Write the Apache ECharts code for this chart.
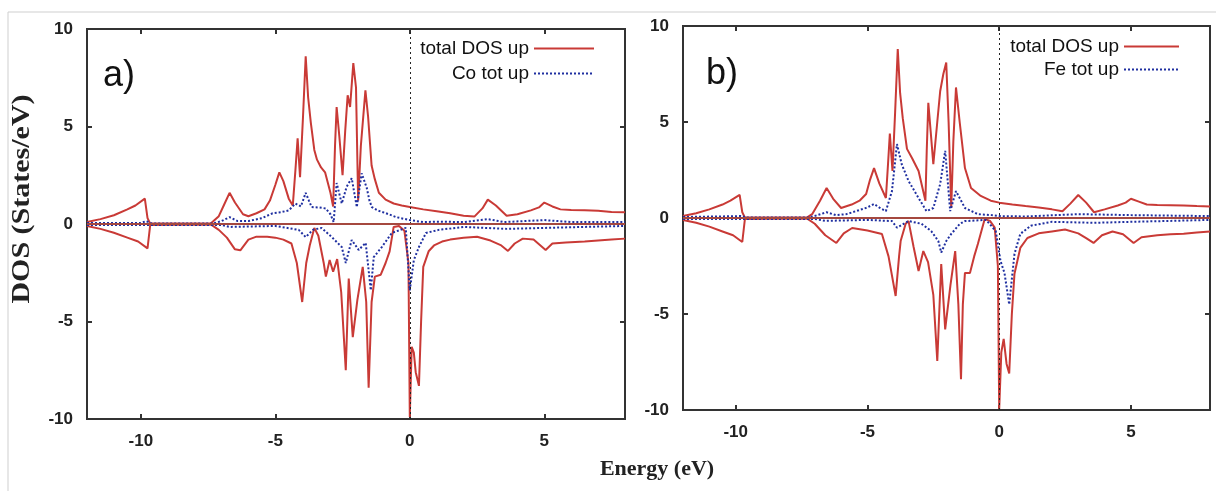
<!DOCTYPE html>
<html><head><meta charset="utf-8">
<script src="https://cdn.jsdelivr.net/npm/echarts@6/dist/echarts.min.js"></script>
<style>html,body{margin:0;padding:0;background:#fff}#c{width:1216px;height:491px}</style>
</head><body><div id="c"></div>
<script>
// ---- data (energy eV, DOS states/eV) ----
const xTicks = [-10, -5, 0, 5];
const yTicks = [-10, -5, 0, 5, 10];
const panelLabels = ['a)', 'b)'];
const legendA = ['total DOS up', 'Co tot up'];
const legendB = ['total DOS up', 'Fe tot up'];

const aTotUp = [[-12,0.1],[-11.5,0.25],[-11,0.45],[-10.5,0.75],[-10.2,0.95],[-9.85,1.3],[-9.75,0.3],[-9.65,0.02],[-7.4,0.02],[-7.1,0.4],[-6.9,1.0],[-6.7,1.6],[-6.5,1.1],[-6.2,0.5],[-6.0,0.4],[-5.7,0.55],[-5.4,0.75],[-5.2,1.2],[-5.0,2.0],[-4.85,2.65],[-4.7,2.2],[-4.5,1.3],[-4.35,0.95],[-4.25,2.8],[-4.17,4.4],[-4.08,2.4],[-3.97,5.5],[-3.87,8.6],[-3.78,6.5],[-3.68,5.2],[-3.55,3.8],[-3.45,3.3],[-3.3,2.9],[-3.15,2.65],[-2.95,1.6],[-2.85,0.9],[-2.78,4.0],[-2.72,6.0],[-2.62,4.5],[-2.5,2.5],[-2.4,4.8],[-2.31,6.6],[-2.22,6.0],[-2.1,8.25],[-2.0,7.0],[-1.92,1.2],[-1.82,4.0],[-1.65,6.85],[-1.55,5.5],[-1.42,3.0],[-1.3,2.3],[-1.15,1.6],[-0.9,1.25],[-0.6,1.05],[-0.3,0.95],[0,0.87],[0.5,0.75],[1.0,0.65],[1.5,0.55],[2.0,0.42],[2.4,0.38],[2.7,0.8],[2.9,1.25],[3.2,0.95],[3.6,0.42],[4.0,0.5],[4.5,0.7],[4.8,0.85],[5.0,1.1],[5.3,0.9],[5.6,0.75],[6.0,0.72],[6.5,0.7],[7.0,0.68],[7.5,0.62],[8.0,0.6]];
const aTotDn = [[-12,-0.1],[-11.5,-0.25],[-11,-0.45],[-10.5,-0.7],[-10.1,-0.9],[-9.75,-1.25],[-9.65,-0.05],[-7.4,-0.02],[-7.1,-0.3],[-6.8,-0.7],[-6.5,-1.3],[-6.3,-1.35],[-6.0,-0.8],[-5.7,-0.65],[-5.3,-0.65],[-5.0,-0.7],[-4.7,-0.8],[-4.4,-1.0],[-4.2,-2.0],[-4.0,-4.0],[-3.85,-2.0],[-3.72,-1.1],[-3.55,-0.2],[-3.4,-0.6],[-3.2,-2.0],[-3.12,-2.7],[-2.98,-1.85],[-2.85,-2.45],[-2.7,-1.8],[-2.55,-3.5],[-2.38,-7.5],[-2.3,-4.0],[-2.27,-2.8],[-2.12,-5.8],[-1.95,-3.9],[-1.75,-2.2],[-1.62,-4.0],[-1.53,-8.4],[-1.42,-4.0],[-1.3,-2.7],[-1.08,-2.6],[-0.9,-2.0],[-0.75,-1.4],[-0.6,-0.15],[-0.4,-0.1],[-0.2,-0.35],[-0.05,-2.0],[0,-9.9],[0.07,-6.3],[0.15,-6.6],[0.22,-7.6],[0.34,-8.3],[0.42,-5.0],[0.5,-2.2],[0.7,-1.4],[0.9,-1.1],[1.2,-0.9],[1.5,-0.8],[2.0,-0.7],[2.5,-0.65],[3.0,-0.85],[3.4,-1.1],[3.65,-1.38],[3.9,-1.0],[4.2,-0.75],[4.6,-0.8],[5.05,-1.33],[5.3,-1.0],[5.8,-0.95],[6.5,-0.9],[7.0,-0.85],[7.5,-0.8],[8,-0.75]];
const aCoUp = [[-12,0.05],[-10,0.05],[-9.8,0.15],[-9.6,0.03],[-7.3,0.03],[-7.0,0.15],[-6.7,0.35],[-6.4,0.15],[-6,0.15],[-5.5,0.3],[-5.1,0.55],[-4.8,0.6],[-4.5,0.7],[-4.25,1.05],[-4.05,0.9],[-3.87,1.6],[-3.75,1.2],[-3.65,0.87],[-3.4,0.85],[-3.13,0.8],[-2.95,0.5],[-2.83,0.1],[-2.72,2.1],[-2.53,1.05],[-2.35,1.9],[-2.16,2.35],[-1.97,0.87],[-1.79,2.6],[-1.6,1.85],[-1.5,1.2],[-1.41,0.87],[-1.2,0.7],[-0.9,0.56],[-0.5,0.35],[0,0.2],[0.5,0.1],[1,0.12],[2,0.1],[2.9,0.25],[3.5,0.1],[5,0.2],[6,0.1],[8,0.1]];
const aCoDn = [[-12,-0.05],[-7,-0.05],[-6.7,-0.15],[-5,-0.1],[-4.13,-0.3],[-3.87,-0.67],[-3.6,-0.3],[-3.28,-0.2],[-2.9,-0.67],[-2.53,-1.18],[-2.38,-2.0],[-2.16,-0.82],[-1.9,-1.33],[-1.64,-0.97],[-1.45,-3.4],[-1.34,-1.7],[-1.04,-1.18],[-0.67,-0.46],[-0.15,-0.2],[0,-3.4],[0.15,-1.85],[0.34,-1.18],[0.6,-0.46],[1.08,-0.3],[2,-0.15],[3.6,-0.25],[5,-0.2],[8,-0.1]];

const bTotUp = [[-12,0.1],[-11.5,0.25],[-11,0.45],[-10.5,0.7],[-10.2,0.9],[-9.85,1.2],[-9.75,0.3],[-9.65,0.02],[-7.3,0.02],[-7.1,0.2],[-6.8,0.9],[-6.55,1.56],[-6.3,1.0],[-6.0,0.52],[-5.6,0.7],[-5.3,0.9],[-5.05,1.25],[-4.9,2.0],[-4.75,2.6],[-4.55,1.8],[-4.3,1.04],[-4.22,2.8],[-4.15,4.4],[-4.05,2.45],[-3.95,5.5],[-3.85,8.8],[-3.76,6.5],[-3.66,5.2],[-3.5,3.6],[-3.3,3.1],[-3.06,2.45],[-2.9,1.5],[-2.8,0.9],[-2.75,3.5],[-2.69,6.0],[-2.6,4.5],[-2.5,2.8],[-2.35,5.0],[-2.24,6.6],[-2.12,7.5],[-2.01,8.1],[-1.92,5.0],[-1.82,0.52],[-1.74,4.0],[-1.64,6.8],[-1.5,5.0],[-1.3,2.6],[-1.07,1.56],[-0.7,1.15],[-0.32,0.9],[0,0.8],[0.5,0.7],[1.0,0.62],[1.5,0.55],[2.0,0.45],[2.4,0.35],[2.7,0.75],[3.0,1.2],[3.3,0.8],[3.6,0.3],[4.0,0.45],[4.5,0.65],[4.8,0.8],[5.0,1.0],[5.3,0.85],[5.6,0.7],[6.0,0.68],[6.5,0.67],[7.0,0.65],[7.5,0.62],[8,0.6]];
const bTotDn = [[-12,-0.1],[-11.5,-0.25],[-11,-0.45],[-10.5,-0.7],[-10.1,-0.9],[-9.75,-1.25],[-9.65,-0.05],[-7.3,-0.02],[-7.0,-0.3],[-6.6,-0.9],[-6.18,-1.3],[-5.9,-0.8],[-5.58,-0.52],[-5.0,-0.65],[-4.45,-0.83],[-4.2,-2.0],[-3.93,-4.06],[-3.8,-2.0],[-3.74,-1.2],[-3.55,-0.3],[-3.44,-0.16],[-3.25,-1.5],[-3.06,-2.76],[-2.88,-1.72],[-2.7,-2.3],[-2.5,-4.0],[-2.35,-7.45],[-2.2,-2.4],[-2.05,-5.8],[-1.85,-3.5],[-1.67,-1.72],[-1.55,-4.5],[-1.45,-8.4],[-1.38,-4.5],[-1.3,-2.86],[-1.11,-2.86],[-0.95,-2.0],[-0.81,-1.35],[-0.55,-0.05],[-0.35,-0.15],[-0.17,-0.5],[-0.05,-2.5],[0,-9.95],[0.08,-7.0],[0.17,-6.3],[0.28,-7.6],[0.38,-8.1],[0.48,-5.0],[0.58,-2.9],[0.8,-1.56],[1.07,-1.04],[1.5,-0.8],[2.0,-0.7],[2.5,-0.6],[3.0,-0.8],[3.3,-1.05],[3.58,-1.3],[3.9,-0.9],[4.3,-0.7],[4.7,-0.85],[5.1,-1.3],[5.4,-1.0],[6.0,-0.9],[6.5,-0.85],[7,-0.82],[7.5,-0.75],[8,-0.7]];
const bFeUp = [[-12,0.05],[-9.8,0.1],[-9.6,0.03],[-7.2,0.03],[-6.9,0.15],[-6.55,0.3],[-6.2,0.15],[-5.8,0.2],[-5.43,0.36],[-5.0,0.55],[-4.75,0.73],[-4.5,0.5],[-4.3,0.36],[-4.07,1.4],[-3.88,3.85],[-3.7,2.8],[-3.44,1.93],[-3.06,1.04],[-2.76,0.36],[-2.5,0.52],[-2.24,1.77],[-2.05,3.5],[-1.86,0.36],[-1.64,1.4],[-1.3,0.52],[-0.81,0.2],[-0.3,0.15],[0,0.1],[1,0.08],[3,0.2],[5,0.15],[8,0.1]];
const bFeDn = [[-12,-0.05],[-7,-0.05],[-6.6,-0.15],[-5,-0.1],[-4.07,-0.16],[-3.88,-0.5],[-3.44,-0.16],[-2.95,-0.3],[-2.58,-0.68],[-2.31,-1.2],[-2.2,-1.8],[-2.01,-1.2],[-1.82,-0.83],[-1.49,-0.3],[-1.3,-0.16],[-0.5,-0.1],[-0.13,-0.68],[0.05,-2.24],[0.2,-2.86],[0.38,-4.5],[0.58,-1.87],[0.8,-0.83],[1.2,-0.4],[2,-0.2],[3.6,-0.25],[5,-0.2],[8,-0.1]];

// ---- chart ----
const RED = '#c93a36', BLUE = '#1f2fa0';
const tickFont = {fontFamily:'Liberation Sans, Arial, sans-serif', fontSize:17, fontWeight:'bold', color:'#222'};
const tickLine = {color:'#333',width:2};
function xAx(g,top){return {gridIndex:g,type:'value',min:-12,max:8,position:top?'top':'bottom',
  axisLine:{show:false,onZero:false},splitLine:{show:false},
  axisTick:{inside:true,length:5,lineStyle:tickLine,customValues:xTicks},
  axisLabel:Object.assign({show:!top,margin:14,customValues:xTicks},tickFont)};}
function yAx(g,right){return {gridIndex:g,type:'value',min:-10,max:10,interval:5,position:right?'right':'left',
  axisLine:{show:false,onZero:false},splitLine:{show:false},
  axisTick:{inside:true,length:5,lineStyle:tickLine},
  axisLabel:Object.assign({show:!right,margin:14},tickFont)};}
function red(name,g,data,mark){const s={name,type:'line',xAxisIndex:g*2,yAxisIndex:g*2,data,symbol:'none',smooth:false,
  lineStyle:{color:RED,width:2},itemStyle:{color:RED},z:3,silent:true};
  if(mark){s.markLine={silent:true,symbol:'none',label:{show:false},data:[
    {xAxis:0,lineStyle:{color:'#222',width:1,type:[2,3]}},
    {yAxis:0,lineStyle:{color:'#a5483f',width:2,type:'solid'}}]};}
  return s;}
function blue(name,g,data){return {name,type:'line',xAxisIndex:g*2,yAxisIndex:g*2,data,symbol:'none',smooth:false,
  lineStyle:{color:BLUE,width:2,type:[2,2]},itemStyle:{color:BLUE},z:4,silent:true};}
const legFont = {fontFamily:'Liberation Sans, Arial, sans-serif',fontSize:19,color:'#111'};

const chart = echarts.init(document.getElementById('c'));
chart.setOption({
  animation:false,
  grid:[
    {left:87,top:29,width:538,height:390,show:true,borderColor:'#333',borderWidth:2,backgroundColor:'#fff'},
    {left:683,top:26,width:527,height:384,show:true,borderColor:'#333',borderWidth:2,backgroundColor:'#fff'}
  ],
  xAxis:[xAx(0,false),xAx(0,true),xAx(1,false),xAx(1,true)],
  yAxis:[yAx(0,false),yAx(0,true),yAx(1,false),yAx(1,true)],
  legend:[
    {data:legendA,orient:'vertical',right:616,top:34,align:'right',itemWidth:60,itemHeight:10,itemGap:6,textStyle:legFont,selectedMode:false,itemStyle:{opacity:0}},
    {data:legendB,orient:'vertical',right:31,top:32,align:'right',itemWidth:55,itemHeight:10,itemGap:4,textStyle:legFont,selectedMode:false,itemStyle:{opacity:0}}
  ],
  series:[
    red(legendA[0],0,aTotUp,true),
    red('a total down',0,aTotDn,false),
    blue(legendA[1],0,aCoUp),
    blue('a Co down',0,aCoDn),
    red('b total up',1,bTotUp,true),
    red('b total down',1,bTotDn,false),
    blue(legendB[1],1,bFeUp),
    blue('b Fe down',1,bFeDn)
  ],
  graphic:[
    {type:'line',shape:{x1:8,y1:12,x2:1216,y2:12},style:{stroke:'#cfcfcf',lineWidth:1},silent:true},
    {type:'line',shape:{x1:8,y1:12,x2:8,y2:491},style:{stroke:'#cfcfcf',lineWidth:1},silent:true},
    {type:'text',left:103,top:58,style:{text:panelLabels[0],fontSize:36,fontFamily:'Liberation Sans, Arial, sans-serif',fill:'#111'}},
    {type:'text',left:706,top:56,style:{text:panelLabels[1],fontSize:36,fontFamily:'Liberation Sans, Arial, sans-serif',fill:'#111'}},
    {type:'text',x:23,y:199,rotation:Math.PI/2,scaleX:1.2,style:{text:'DOS (States/eV)',fontSize:25,fontWeight:'bold',fontFamily:'Liberation Serif, serif',fill:'#222',align:'center',verticalAlign:'middle'}},
    {type:'text',x:657,y:469,style:{text:'Energy (eV)',fontSize:22,fontWeight:'bold',fontFamily:'Liberation Serif, serif',fill:'#222',align:'center',verticalAlign:'middle'}}
  ]
});
</script></body></html>
